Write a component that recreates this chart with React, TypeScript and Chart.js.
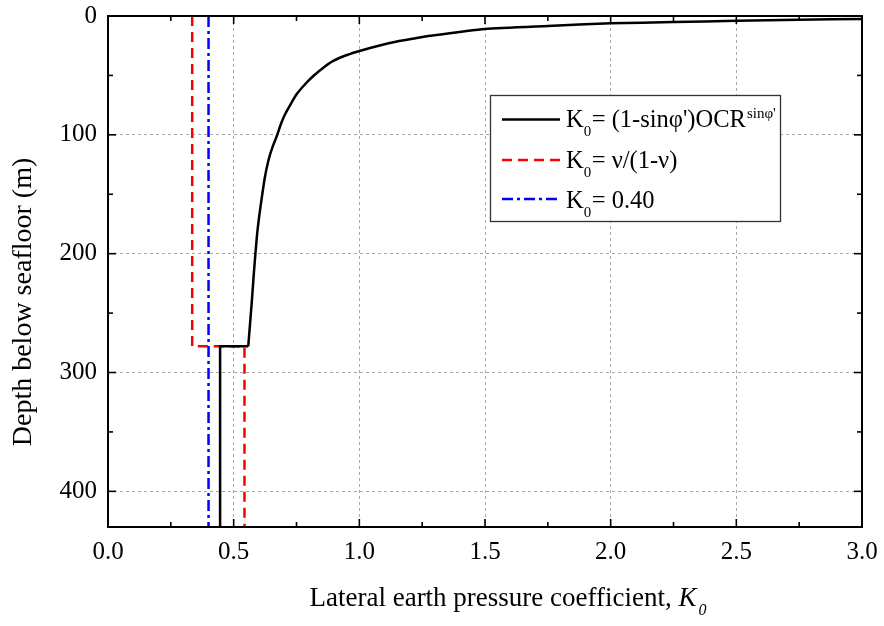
import React, { useEffect, useRef } from "react";
import { Chart, registerables } from "chart.js";

Chart.register(...registerables);

// ---- axes ----
const X_MIN = 0;
const X_MAX = 3;
const Y_MIN = 0;
const Y_MAX = 430;
const X_TICKS = [0, 0.5, 1.0, 1.5, 2.0, 2.5, 3.0];
const X_MINOR = [0.25, 0.75, 1.25, 1.75, 2.25, 2.75];
const Y_TICKS = [0, 100, 200, 300, 400];
const Y_MINOR = [50, 150, 250, 350];

// ---- series: K0 = (1-sinφ')OCR^sinφ' ----
const CURVE_K = [3.0, 2.75, 2.5, 2.25, 2.0, 1.75, 1.5, 1.283, 1.217, 1.15, 1.077, 1.004, 0.951, 0.898, 0.858, 0.818, 0.785, 0.751, 0.727, 0.705, 0.688, 0.672, 0.654, 0.638, 0.624, 0.612, 0.601, 0.592, 0.581, 0.573, 0.558];
const CURVE_DEPTH = [2.5, 3.1, 4.0, 5.1, 6.2, 8.4, 10.9, 16.6, 18.9, 21.4, 25.0, 29.2, 32.8, 37.6, 43.3, 50.3, 57.2, 65.7, 74.1, 82.5, 90.9, 100.8, 110.6, 121.8, 135.9, 152.7, 169.5, 186.4, 214.4, 238, 278];
const STEP_K = [0.558, 0.446, 0.446];
const STEP_DEPTH = [278, 278, 430];

// ---- series: K0 = ν/(1-ν) ----
const POISSON_K = [0.335, 0.335, 0.543, 0.543];
const POISSON_DEPTH = [0, 278, 278, 430];

// ---- series: K0 = 0.40 ----
const CONST_K = [0.4, 0.4];
const CONST_DEPTH = [0, 430];

// ---- text ----
const X_TITLE = "Lateral earth pressure coefficient, ";
const X_TITLE_SYMBOL = "K";
const X_TITLE_SUB = "0";
const Y_TITLE = "Depth below seafloor (m)";
const LEGEND_ITEMS = [
  { main: "K", sub: "0", rest: "= (1-sinφ')OCR", sup: "sinφ'", color: "#000000", dash: [] as number[] },
  { main: "K", sub: "0", rest: "= ν/(1-ν)", sup: "", color: "#ff0000", dash: [10, 6] },
  { main: "K", sub: "0", rest: "= 0.40", sup: "", color: "#0000ff", dash: [11, 4, 3, 4] },
];

const FONT = "'Liberation Serif', 'Times New Roman', serif";

const zip = (xs: number[], ys: number[]) => xs.map((x, i) => ({ x, y: ys[i] }));

const decorPlugin = {
  id: "decor",
  afterDatasetsDraw(chart: any) {
    const { ctx, chartArea: a, scales } = chart;
    const xs = scales.x;
    const ys = scales.y;
    ctx.save();
    ctx.setLineDash([]);
    ctx.strokeStyle = "#000";
    ctx.lineWidth = 2;
    ctx.strokeRect(a.left, a.top, a.right - a.left, a.bottom - a.top);
    ctx.lineWidth = 1.6;
    const seg = (x1: number, y1: number, x2: number, y2: number) => {
      ctx.beginPath();
      ctx.moveTo(x1, y1);
      ctx.lineTo(x2, y2);
      ctx.stroke();
    };
    const xt = (vals: number[], len: number) =>
      vals.forEach((v) => {
        const p = xs.getPixelForValue(v);
        seg(p, a.bottom, p, a.bottom - len);
        seg(p, a.top, p, a.top + len);
      });
    const yt = (vals: number[], len: number) =>
      vals.forEach((v) => {
        const p = ys.getPixelForValue(v);
        seg(a.left, p, a.left + len, p);
        seg(a.right, p, a.right - len, p);
      });
    xt(X_TICKS, 8);
    xt(X_MINOR, 5);
    yt(Y_TICKS, 8);
    yt(Y_MINOR, 5);
    ctx.restore();
  },
  afterDraw(chart: any) {
    const { ctx } = chart;
    ctx.save();
    // ---- legend ----
    const bx = 490, by = 95, bw = 290, bh = 126;
    ctx.fillStyle = "#fff";
    ctx.fillRect(bx, by, bw, bh);
    ctx.strokeStyle = "#333";
    ctx.lineWidth = 1.3;
    ctx.setLineDash([]);
    ctx.strokeRect(bx + 0.5, by + 0.5, bw, bh);
    const lineY = [119.5, 160, 199];
    const baseY = [127, 168, 208];
    LEGEND_ITEMS.forEach((it, i) => {
      ctx.strokeStyle = it.color;
      ctx.lineWidth = 2.5;
      ctx.setLineDash(it.dash);
      ctx.beginPath();
      ctx.moveTo(502, lineY[i]);
      ctx.lineTo(560, lineY[i]);
      ctx.stroke();
      ctx.setLineDash([]);
      ctx.fillStyle = "#000";
      ctx.textBaseline = "alphabetic";
      ctx.textAlign = "left";
      let x = 566;
      ctx.font = `24.5px ${FONT}`;
      ctx.fillText(it.main, x, baseY[i]);
      x += ctx.measureText(it.main).width;
      ctx.font = `15px ${FONT}`;
      ctx.fillText(it.sub, x, baseY[i] + 9);
      x += ctx.measureText(it.sub).width + 0.5;
      ctx.font = `24.5px ${FONT}`;
      ctx.fillText(it.rest, x, baseY[i]);
      x += ctx.measureText(it.rest).width + 1;
      if (it.sup) {
        ctx.font = `15px ${FONT}`;
        ctx.fillText(it.sup, x, baseY[i] - 9);
      }
    });
    // ---- x title ----
    ctx.fillStyle = "#000";
    ctx.textBaseline = "alphabetic";
    ctx.textAlign = "left";
    ctx.font = `27px ${FONT}`;
    const w1 = ctx.measureText(X_TITLE).width;
    ctx.font = `italic 27px ${FONT}`;
    const w2 = ctx.measureText(X_TITLE_SYMBOL).width;
    ctx.font = `italic 16px ${FONT}`;
    const w3 = ctx.measureText(X_TITLE_SUB).width;
    const cx = 508;
    let tx = cx - (w1 + w2 + w3 + 2) / 2;
    const tb = 606;
    ctx.font = `27px ${FONT}`;
    ctx.fillText(X_TITLE, tx, tb);
    tx += w1;
    ctx.font = `italic 27px ${FONT}`;
    ctx.fillText(X_TITLE_SYMBOL, tx, tb);
    tx += w2 + 2;
    ctx.font = `italic 16px ${FONT}`;
    ctx.fillText(X_TITLE_SUB, tx, tb + 9);
    // ---- y title ----
    ctx.save();
    ctx.translate(24, 302);
    ctx.rotate(-Math.PI / 2);
    ctx.font = `28px ${FONT}`;
    ctx.textAlign = "center";
    ctx.textBaseline = "middle";
    ctx.fillText(Y_TITLE, 0, 0);
    ctx.restore();
    ctx.restore();
  },
};

export default function App() {
  const ref = useRef<HTMLCanvasElement | null>(null);
  useEffect(() => {
    document.body.style.margin = "0";
    const canvas = ref.current;
    if (!canvas) return;
    const chart = new Chart(canvas, {
      type: "scatter",
      data: {
        datasets: [
          {
            label: "K0 = 0.40",
            data: zip(CONST_K, CONST_DEPTH),
            showLine: true,
            borderColor: "#0000ff",
            borderWidth: 2.5,
            borderDash: [11, 4, 3, 4],
            pointRadius: 0,
            fill: false,
          },
          {
            label: "K0 = (1-sinφ')OCR^sinφ'",
            data: zip(CURVE_K, CURVE_DEPTH),
            showLine: true,
            borderColor: "#000000",
            borderWidth: 2.5,
            pointRadius: 0,
            tension: 0.2,
            fill: false,
          },
          {
            label: "K0 = (1-sinφ')OCR^sinφ' (lower)",
            data: zip(STEP_K, STEP_DEPTH),
            showLine: true,
            borderColor: "#000000",
            borderWidth: 2.5,
            pointRadius: 0,
            fill: false,
          },
          {
            label: "K0 = ν/(1-ν)",
            data: zip(POISSON_K, POISSON_DEPTH),
            showLine: true,
            borderColor: "#ff0000",
            borderWidth: 2.5,
            borderDash: [10, 6],
            pointRadius: 0,
            fill: false,
          },
        ],
      },
      options: {
        animation: false,
        responsive: false,
        devicePixelRatio: 1,
        layout: { padding: { left: 0, right: 22, top: 16, bottom: 0 } },
        plugins: {
          legend: { display: false },
          tooltip: { enabled: false },
        },
        scales: {
          x: {
            type: "linear",
            position: "bottom",
            min: X_MIN,
            max: X_MAX,
            afterBuildTicks: (s: any) => {
              s.ticks = X_TICKS.map((v) => ({ value: v }));
            },
            afterFit: (s: any) => {
              s.height = 99;
              s.paddingLeft = 0;
              s.paddingRight = 0;
            },
            ticks: {
              autoSkip: false,
              maxRotation: 0,
              padding: 10,
              color: "#000",
              font: { family: FONT, size: 25 },
              callback: (v: any) => Number(v).toFixed(1),
            },
            grid: { color: "#a8a8a8", lineWidth: 1, drawTicks: false },
            border: { display: false, dash: [3, 3] },
            title: { display: false },
          },
          y: {
            type: "linear",
            position: "left",
            reverse: true,
            min: Y_MIN,
            max: Y_MAX,
            afterBuildTicks: (s: any) => {
              s.ticks = Y_TICKS.map((v) => ({ value: v }));
            },
            afterFit: (s: any) => {
              s.width = 108;
              s.paddingTop = 0;
              s.paddingBottom = 0;
            },
            ticks: {
              autoSkip: false,
              padding: 11,
              color: "#000",
              font: { family: FONT, size: 25 },
              callback: (v: any) => String(v),
            },
            grid: { color: "#a8a8a8", lineWidth: 1, drawTicks: false },
            border: { display: false, dash: [3, 3] },
            title: { display: false },
          },
        },
      },
      plugins: [decorPlugin],
    });
    return () => chart.destroy();
  }, []);
  return (
    <div style={{ width: 884, height: 626, background: "#fff" }}>
      <canvas ref={ref} width={884} height={626} style={{ display: "block" }} />
    </div>
  );
}
